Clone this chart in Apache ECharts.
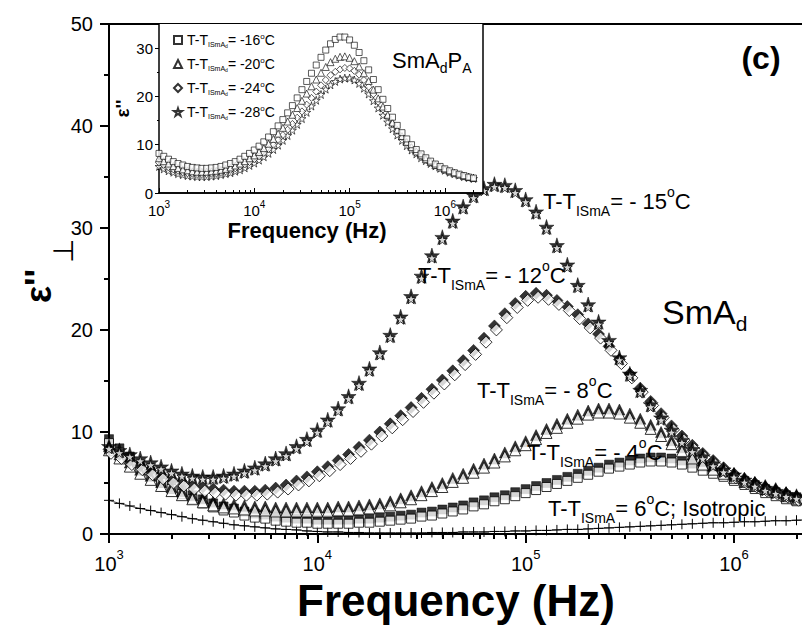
<!DOCTYPE html>
<html><head><meta charset="utf-8">
<script src="https://cdn.jsdelivr.net/npm/echarts@6/dist/echarts.min.js"></script>
<style>html,body{margin:0;padding:0;background:#fff}#c{width:802px;height:630px}</style>
</head><body><div id="c"></div>
<script>
// ---------- DATA ----------
// measurement frequencies, log10(f / Hz)
const mainFreqExp = [3.00,3.05,3.10,3.15,3.20,3.25,3.30,3.35,3.40,3.45,
  3.50,3.55,3.60,3.65,3.70,3.75,3.80,3.85,3.90,3.95,
  4.00,4.05,4.10,4.15,4.20,4.25,4.30,4.35,4.40,4.45,
  4.50,4.55,4.60,4.65,4.70,4.75,4.80,4.85,4.90,4.95,
  5.00,5.05,5.10,5.15,5.20,5.25,5.30,5.35,5.40,5.45,
  5.50,5.55,5.60,5.65,5.70,5.75,5.80,5.85,5.90,5.95,
  6.00,6.05,6.10,6.15,6.20,6.25,6.30,6.35];
const insetFreqExp = [3.00,3.05,3.10,3.15,3.20,3.25,3.30,3.35,3.40,3.45,
  3.50,3.55,3.60,3.65,3.70,3.75,3.80,3.85,3.90,3.95,
  4.00,4.05,4.10,4.15,4.20,4.25,4.30,4.35,4.40,4.45,
  4.50,4.55,4.60,4.65,4.70,4.75,4.80,4.85,4.90,4.95,
  5.00,5.05,5.10,5.15,5.20,5.25,5.30,5.35,5.40,5.45,
  5.50,5.55,5.60,5.65,5.70,5.75,5.80,5.85,5.90,5.95,
  6.00,6.05,6.10,6.15,6.20,6.25,6.30];

// main panel: eps'' perpendicular
const epsM15 = [8.6,8.2,7.8,7.4,7.0,6.6,6.2,5.9,5.7,5.6,
  5.6,5.7,5.9,6.2,6.5,6.9,7.4,7.9,8.6,9.3,
  10.2,11.2,12.3,13.5,14.8,16.2,17.8,19.5,21.3,23.3,
  25.3,27.3,29.1,30.7,32.1,33.2,33.9,34.3,34.2,33.7,
  32.8,31.6,30.1,28.3,26.4,24.4,22.5,20.8,19.0,17.3,
  15.7,14.1,12.7,11.4,10.2,9.2,8.3,7.6,6.9,6.3,
  5.8,5.3,4.9,4.5,4.2,3.9,3.7,3.5];
const epsM12 = [8.3,7.8,7.2,6.7,6.2,5.8,5.4,5.1,4.8,4.6,
  4.4,4.3,4.2,4.2,4.2,4.3,4.5,4.8,5.2,5.6,
  6.1,6.6,7.2,7.8,8.5,9.2,10.0,10.8,11.6,12.4,
  13.3,14.2,15.1,16.0,17.0,18.0,19.2,20.4,21.6,22.6,
  23.3,23.6,23.4,22.9,22.3,21.5,20.6,19.6,18.4,17.1,
  15.7,14.3,13.0,11.8,10.6,9.6,8.7,7.9,7.2,6.5,
  5.9,5.4,5.0,4.6,4.3,4.0,3.7,3.5];
const epsM8 = [8.6,7.8,7.0,6.3,5.7,5.1,4.6,4.2,3.8,3.5,
  3.2,3.0,2.9,2.8,2.7,2.7,2.6,2.6,2.6,2.6,
  2.6,2.6,2.7,2.7,2.8,2.9,3.0,3.2,3.5,3.8,
  4.2,4.6,5.0,5.5,5.9,6.4,6.9,7.4,8.0,8.6,
  9.1,9.7,10.3,10.8,11.3,11.7,12.1,12.3,12.3,12.2,
  11.8,11.3,10.7,10.0,9.2,8.5,7.8,7.2,6.7,6.3,
  5.9,5.5,5.1,4.8,4.5,4.1,3.8,3.6];
const epsM4 = [9.3,8.4,7.6,6.8,6.1,5.4,4.8,4.3,3.8,3.4,
  3.0,2.7,2.5,2.2,2.0,1.9,1.7,1.6,1.5,1.5,
  1.4,1.4,1.4,1.4,1.5,1.5,1.6,1.7,1.8,1.9,
  2.1,2.2,2.4,2.6,2.8,3.1,3.3,3.6,3.8,4.1,
  4.4,4.7,5.0,5.3,5.6,5.9,6.2,6.5,6.8,7.0,
  7.2,7.4,7.5,7.5,7.4,7.2,6.9,6.6,6.3,6.0,
  5.6,5.2,4.8,4.4,4.1,3.8,3.6,3.4];
const epsIso = [3.3,3.0,2.75,2.5,2.3,2.1,1.9,1.7,1.5,1.35,
  1.2,1.05,0.9,0.8,0.7,0.6,0.5,0.45,0.4,0.3,
  0.25,0.2,0.2,0.15,0.15,0.1,0.1,0.1,0.1,0.1,
  0.1,0.15,0.15,0.15,0.2,0.2,0.2,0.25,0.25,0.3,
  0.3,0.35,0.35,0.4,0.45,0.45,0.5,0.55,0.6,0.65,
  0.7,0.75,0.8,0.85,0.9,0.95,1.0,1.05,1.1,1.1,
  1.15,1.2,1.2,1.25,1.3,1.3,1.35,1.4];

// inset: SmAdPA phase
const epsI16 = [8.2,7.6,7.0,6.5,6.1,5.8,5.5,5.3,5.2,5.1,
  5.1,5.2,5.3,5.5,5.8,6.1,6.5,7.0,7.6,8.2,
  8.9,9.7,10.6,11.6,12.7,13.9,15.2,16.6,18.1,19.7,
  21.4,23.1,24.8,26.5,28.1,29.6,30.9,31.8,32.3,32.3,
  31.7,30.6,29.1,27.4,25.5,23.5,21.4,19.4,17.5,15.7,
  14.0,12.5,11.2,10.0,9.0,8.1,7.3,6.6,6.0,5.5,
  5.0,4.6,4.2,3.9,3.6,3.3,3.1];
const epsI20 = [7.2,6.6,6.1,5.6,5.2,4.9,4.7,4.5,4.4,4.4,
  4.4,4.5,4.6,4.8,5.0,5.3,5.7,6.1,6.6,7.2,
  7.8,8.5,9.3,10.2,11.2,12.3,13.5,14.8,16.2,17.6,
  19.1,20.6,22.1,23.5,24.9,26.1,27.1,27.8,28.2,28.3,
  28.0,27.3,26.2,24.8,23.2,21.4,19.6,17.9,16.2,14.6,
  13.1,11.8,10.6,9.5,8.6,7.8,7.0,6.4,5.8,5.3,
  4.9,4.5,4.1,3.8,3.5,3.3,3.1];
const epsI24 = [6.3,5.8,5.3,4.9,4.6,4.3,4.1,4.0,3.9,3.9,
  3.9,4.0,4.1,4.3,4.5,4.8,5.1,5.5,5.9,6.4,
  7.0,7.6,8.3,9.1,10.0,11.0,12.0,13.1,14.3,15.6,
  16.9,18.3,19.7,21.0,22.3,23.4,24.4,25.1,25.6,25.9,
  25.8,25.3,24.5,23.4,22.0,20.5,18.9,17.3,15.8,14.3,
  12.9,11.6,10.4,9.4,8.5,7.7,7.0,6.3,5.8,5.3,
  4.8,4.4,4.1,3.8,3.5,3.3,3.1];
const epsI28 = [5.5,5.0,4.6,4.3,4.0,3.8,3.6,3.5,3.4,3.4,
  3.4,3.5,3.6,3.8,4.0,4.2,4.5,4.8,5.2,5.7,
  6.2,6.8,7.5,8.2,9.0,9.9,10.9,11.9,13.0,14.2,
  15.4,16.7,18.0,19.2,20.4,21.5,22.4,23.1,23.6,23.8,
  23.8,23.4,22.7,21.7,20.5,19.1,17.6,16.1,14.7,13.3,
  12.0,10.9,9.8,8.9,8.1,7.3,6.7,6.1,5.6,5.1,
  4.7,4.3,4.0,3.7,3.4,3.2,3.0];

const insetTemps = ['-16', '-20', '-24', '-28'];
const mainTickExp = [3, 4, 5, 6];
const insetYTicks = [0, 10, 20, 30];

// ---------- CHART ----------
const FONT = "'Liberation Sans', Arial, sans-serif";
const STAR = 'path://M50,0 L61.2,34.5 L97.6,34.5 L68.2,55.9 L79.4,90.5 L50,69.1 L20.6,90.5 L31.8,55.9 L2.4,34.5 L38.8,34.5 Z';
const PLUS = 'path://M0,50 L100,50 M50,0 L50,100';
const pts = (exps, vals) => vals.map((v, i) => [Math.pow(10, exps[i]), v]);
const majors = mainTickExp.map(e => Math.pow(10, e));
const minors = [];
for (let e = 3; e <= 6; e++) for (let k = 2; k <= 9; k++) minors.push(k * Math.pow(10, e));
const MAIN_XMAX = Math.pow(10, 6.3264);   // plot runs off the right edge of the page
const INSET_XMAX = Math.pow(10, 6.4);

const FILLED = {color: '#000', borderColor: '#000', borderWidth: 0.6};
const OPEN = {color: '#fff', borderColor: '#000', borderWidth: 1};

function pair(name, vals, symbol, size, offset, size2) {
  const d = pts(mainFreqExp, vals);
  return [
    {type: 'scatter', name: name, xAxisIndex: 0, yAxisIndex: 0, data: d, symbol: symbol,
     symbolSize: size, itemStyle: FILLED, z: 2, silent: true},
    {type: 'scatter', name: name + ' b', xAxisIndex: 0, yAxisIndex: 0, data: d, symbol: symbol,
     symbolSize: size2 || size, symbolOffset: offset, itemStyle: OPEN, z: 2, silent: true}
  ];
}
const insetNames = insetTemps.map(t => 'T-T ISmAd = ' + t + '°C');
function insetSeries(i, vals, symbol, size) {
  return {type: 'scatter', name: insetNames[i], xAxisIndex: 3, yAxisIndex: 1,
    data: pts(insetFreqExp, vals), symbol: symbol, symbolSize: size,
    itemStyle: {color: '#fff', borderColor: '#000', borderWidth: 0.8}, z: 6, silent: true};
}

const expLabelMain = {
  b: {fontSize: 20, fontFamily: FONT, color: '#000', verticalAlign: 'bottom', lineHeight: 26},
  s: {fontSize: 13, fontFamily: FONT, color: '#000', verticalAlign: 'top', lineHeight: 13}
};
const expLabelInset = {
  b: {fontSize: 15, fontFamily: FONT, color: '#000', verticalAlign: 'bottom', lineHeight: 19},
  s: {fontSize: 10, fontFamily: FONT, color: '#000', verticalAlign: 'top', lineHeight: 10}
};
const expFmt = v => '{b|10}{s|' + Math.round(Math.log10(v)) + '}';

const annRich = {
  s: {fontSize: 14, fontFamily: FONT, fill: '#000', verticalAlign: 'bottom', lineHeight: 14},
  o: {fontSize: 14, fontFamily: FONT, fill: '#000', verticalAlign: 'top', lineHeight: 14}
};
function ann(x, y, str) {
  return {type: 'text', x: x, y: y, z: 20,
    style: {text: str, fontSize: 22, fontFamily: FONT, fill: '#000', lineHeight: 33,
      verticalAlign: 'middle', rich: annRich}};
}

const chart = echarts.init(document.getElementById('c'), null, {renderer: 'svg'});
chart.setOption({
  animation: false,
  backgroundColor: '#fff',
  grid: [
    {left: 109, top: 24, right: 0, height: 510, show: false},
    {left: 159, top: 24, width: 324, height: 169, show: true, backgroundColor: '#fff', borderWidth: 0, z: 4}
  ],
  xAxis: [
    {type: 'log', gridIndex: 0, min: 1000, max: MAIN_XMAX, position: 'bottom',
     axisLine: {lineStyle: {color: '#000', width: 2}},
     axisTick: {customValues: majors, length: 9, lineStyle: {color: '#000', width: 2}},
     axisLabel: {customValues: majors, formatter: expFmt, margin: 14, rich: expLabelMain},
     splitLine: {show: false}},
    {type: 'log', gridIndex: 0, min: 1000, max: MAIN_XMAX, position: 'bottom',
     axisLine: {show: false},
     axisTick: {customValues: minors, length: 5, lineStyle: {color: '#000', width: 2}},
     axisLabel: {show: false}, splitLine: {show: false}},
    {type: 'log', gridIndex: 0, min: 1000, max: MAIN_XMAX, position: 'top',
     axisLine: {lineStyle: {color: '#000', width: 2}},
     axisTick: {show: false}, axisLabel: {show: false}, splitLine: {show: false}},
    {type: 'log', gridIndex: 1, min: 1000, max: INSET_XMAX, position: 'bottom', z: 5,
     axisLine: {lineStyle: {color: '#000', width: 1.5}},
     axisTick: {customValues: majors, inside: true, length: 5, lineStyle: {color: '#000', width: 1}},
     axisLabel: {customValues: majors, formatter: expFmt, margin: 6, rich: expLabelInset},
     splitLine: {show: false}},
    {type: 'log', gridIndex: 1, min: 1000, max: INSET_XMAX, position: 'bottom', z: 5,
     axisLine: {show: false},
     axisTick: {customValues: minors, inside: true, length: 3, lineStyle: {color: '#000', width: 1}},
     axisLabel: {show: false}, splitLine: {show: false}},
    {type: 'log', gridIndex: 1, min: 1000, max: INSET_XMAX, position: 'top', z: 5,
     axisLine: {lineStyle: {color: '#000', width: 1.5}},
     axisTick: {show: false}, axisLabel: {show: false}, splitLine: {show: false}}
  ],
  yAxis: [
    {type: 'value', gridIndex: 0, min: 0, max: 50, interval: 10, position: 'left',
     name: "ε''", nameLocation: 'middle', nameRotate: 90, nameGap: 53,
     nameTextStyle: {fontSize: 36, fontWeight: 'bold', fontFamily: FONT, color: '#000', lineHeight: 36,
       padding: [0, 14, 0, 0]},
     axisLine: {lineStyle: {color: '#000', width: 2}},
     axisTick: {length: 9, lineStyle: {color: '#000', width: 2}},
     minorTick: {show: true, splitNumber: 2, length: 5, lineStyle: {color: '#000', width: 2}},
     axisLabel: {fontSize: 20, fontFamily: FONT, color: '#000', margin: 16},
     splitLine: {show: false}},
    {type: 'value', gridIndex: 1, min: 0, max: 35, position: 'left', z: 5,
     name: "ε''", nameLocation: 'middle', nameRotate: 90, nameGap: 26,
     nameTextStyle: {fontSize: 19, fontWeight: 'bold', fontFamily: FONT, color: '#000'},
     axisLine: {lineStyle: {color: '#000', width: 1.5}},
     axisTick: {customValues: insetYTicks, length: 4, lineStyle: {color: '#000', width: 1}},
     axisLabel: {customValues: insetYTicks, fontSize: 15, fontFamily: FONT, color: '#000', margin: 6},
     splitLine: {show: false}},
    {type: 'value', gridIndex: 1, min: 0, max: 35, position: 'left', z: 5,
     axisLine: {show: false},
     axisTick: {customValues: [5, 15, 25], length: 2, lineStyle: {color: '#000', width: 1}},
     axisLabel: {show: false}, splitLine: {show: false}},
    {type: 'value', gridIndex: 1, min: 0, max: 35, position: 'right', z: 5,
     axisLine: {lineStyle: {color: '#000', width: 1.5}},
     axisTick: {show: false}, axisLabel: {show: false}, splitLine: {show: false}}
  ],
  legend: {
    data: insetNames, orient: 'vertical', left: 168, top: 27, itemGap: 8, z: 8,
    itemWidth: 8, itemHeight: 8, selectedMode: false,
    formatter: name => {
      const t = insetTemps[insetNames.indexOf(name)];
      return 'T-T{s|ISmA}{ss|d}= ' + t + '{o|o}C';
    },
    textStyle: {fontSize: 14, fontFamily: FONT, color: '#000', lineHeight: 16,
      rich: {
        s: {fontSize: 7, fontFamily: FONT, color: '#000', verticalAlign: 'bottom', lineHeight: 7},
        ss: {fontSize: 5, fontFamily: FONT, color: '#000', verticalAlign: 'bottom', lineHeight: 5},
        o: {fontSize: 8, fontFamily: FONT, color: '#000', verticalAlign: 'top', lineHeight: 8}
      }}
  },
  series: [
    {type: 'line', name: 'iso', xAxisIndex: 0, yAxisIndex: 0, data: pts(mainFreqExp, epsIso),
     symbol: PLUS, symbolSize: 10, showAllSymbol: true, smooth: true, silent: true,
     lineStyle: {color: '#000', width: 0.8},
     itemStyle: {color: '#000', borderColor: '#000', borderWidth: 1}, z: 2},
    ...pair('m4', epsM4, 'rect', 9, [0, 4]),
    ...pair('m8', epsM8, 'triangle', 11, [0, 4]),
    ...pair('m12', epsM12, 'diamond', 12, [2, 4]),
    ...pair('m15', epsM15, STAR, 15, [0, 2.5], 10),
    insetSeries(3, epsI28, STAR, 8),
    insetSeries(2, epsI24, 'diamond', 7),
    insetSeries(1, epsI20, 'triangle', 7),
    insetSeries(0, epsI16, 'rect', 6)
  ],
  graphic: [
    // subscript "perpendicular" mark of the main y-axis title
    {type: 'text', x: 63, y: 251, rotation: Math.PI / 2, z: 20,
     style: {text: '⊥', fontSize: 28, fontFamily: FONT, fill: '#000', align: 'center', verticalAlign: 'middle'}},
    ann(543, 201, 'T-T{s|ISmA}= - 15{o|o}C'),
    ann(418, 275, 'T-T{s|ISmA}= - 12{o|o}C'),
    ann(477, 390, 'T-T{s|ISmA}= - 8{o|o}C'),
    ann(527, 452, 'T-T{s|ISmA}= - 4{o|o}C'),
    ann(548, 508, 'T-T{s|ISmA}= 6{o|o}C; Isotropic'),
    {type: 'text', x: 662, y: 312, z: 20,
     style: {text: 'SmA{d|d}', fontSize: 34, fontFamily: FONT, fill: '#000', lineHeight: 44,
       verticalAlign: 'middle', rich: {d: {fontSize: 21, fontFamily: FONT, fill: '#000', verticalAlign: 'bottom', lineHeight: 21}}}},
    {type: 'text', x: 392, y: 60, z: 20,
     style: {text: 'SmA{d|d}P{d|A}', fontSize: 22, fontFamily: FONT, fill: '#000', lineHeight: 30,
       verticalAlign: 'middle', rich: {d: {fontSize: 14, fontFamily: FONT, fill: '#000', verticalAlign: 'bottom', lineHeight: 14}}}},
    {type: 'text', x: 761, y: 58, z: 20,
     style: {text: '(c)', fontSize: 32, fontWeight: 'bold', fontFamily: FONT, fill: '#000',
       align: 'center', verticalAlign: 'middle'}},
    {type: 'text', x: 307, y: 230, z: 20,
     style: {text: 'Frequency (Hz)', fontSize: 22, fontWeight: 'bold', fontFamily: FONT, fill: '#000',
       align: 'center', verticalAlign: 'middle'}},
    {type: 'text', x: 456, y: 600, z: 20,
     style: {text: 'Frequency (Hz)', fontSize: 44, fontWeight: 'bold', fontFamily: FONT, fill: '#000',
       align: 'center', verticalAlign: 'middle'}}
  ]
});
</script></body></html>
